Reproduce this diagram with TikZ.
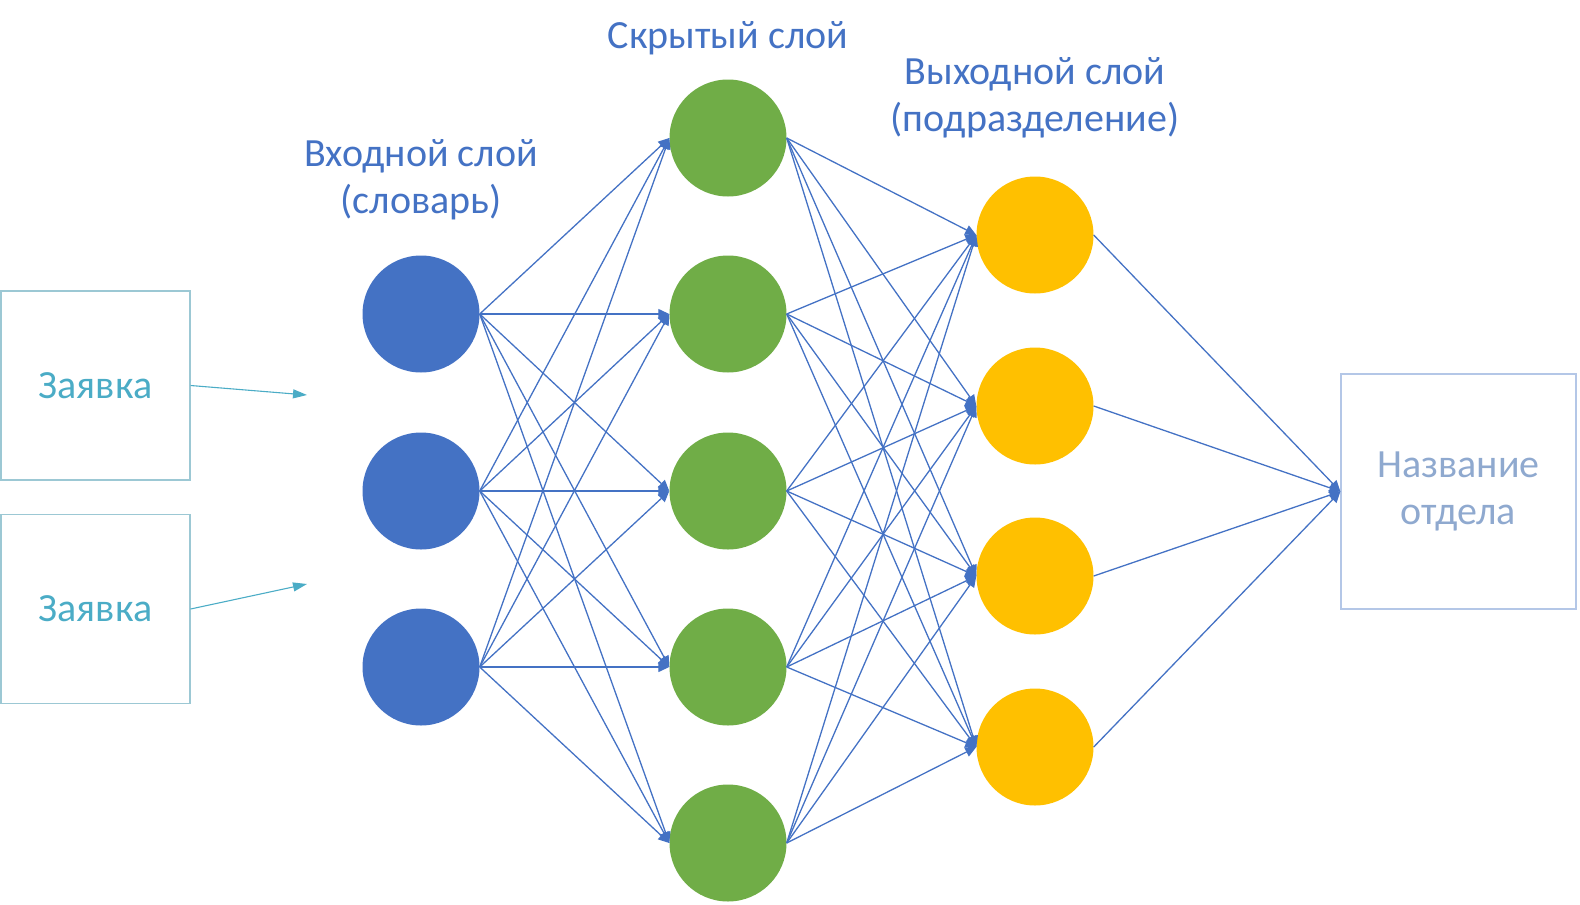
\documentclass[tikz,border=0pt]{standalone}
\usepackage{fontspec}
\setmainfont{Carlito}
\usetikzlibrary{arrows.meta}
\definecolor{inblue}{HTML}{4472C4}
\definecolor{hidgreen}{HTML}{70AD47}
\definecolor{outgold}{HTML}{FFC000}
\definecolor{reqteal}{HTML}{4BACC6}
\definecolor{reqframe}{HTML}{9CC8D4}
\definecolor{deptframe}{HTML}{B4C7E7}
\definecolor{depttext}{HTML}{8FA9CF}

\begin{document}
\begin{tikzpicture}[x=1pt, y=1pt,
    neuron/.style={circle, minimum size=117pt, inner sep=0pt},
    reqbox/.style={draw=reqframe, line width=1.2pt, minimum width=189pt, minimum height=189pt, text=reqteal, font=\fontsize{40}{47}\selectfont},
    layertitle/.style={text=inblue, align=center, font=\fontsize{40}{47}\selectfont},
    link/.style={every edge/.style={draw, inblue, line width=1.3pt, -{Triangle[length=11pt, width=10pt]}}},
    feed/.style={reqteal, line width=1.1pt, -{Triangle[length=14pt, width=9pt]}}]
            \useasboundingbox (0,0) rectangle (1580,-905);

            % requests
            \node[reqbox] (req1) at (95.5,-385.5) {Заявка};
            \node[reqbox] (req2) at (95.5,-609) {Заявка};
            \coordinate (in1) at (307,-395);
            \coordinate (in2) at (307,-584);

            % layers
            \node[neuron, fill=inblue] (i1) at (421,-314) {};
            \node[neuron, fill=inblue] (i2) at (421,-491) {};
            \node[neuron, fill=inblue] (i3) at (421,-667) {};
            \node[neuron, fill=hidgreen] (h1) at (728,-138) {};
            \node[neuron, fill=hidgreen] (h2) at (728,-314) {};
            \node[neuron, fill=hidgreen] (h3) at (728,-491) {};
            \node[neuron, fill=hidgreen] (h4) at (728,-667) {};
            \node[neuron, fill=hidgreen] (h5) at (728,-843) {};
            \node[neuron, fill=outgold] (o1) at (1035,-235) {};
            \node[neuron, fill=outgold] (o2) at (1035,-406) {};
            \node[neuron, fill=outgold] (o3) at (1035,-576) {};
            \node[neuron, fill=outgold] (o4) at (1035,-747) {};
            \node[draw=deptframe, line width=1.2pt, minimum width=235pt, minimum height=235pt, text=depttext, align=center, font=\fontsize{40}{47}\selectfont] (dept) at (1458.5,-491.5) {Название\\отдела};

            % titles
            \node[layertitle] (tin) at (421,-180) {Входной слой\\(словарь)};
            \node[layertitle] (thid) at (728,-38) {Скрытый слой};
            \node[layertitle] (tout) at (1035,-98) {Выходной слой\\(подразделение)};

            \draw[feed] (req1.east) -- (in1);
            \draw[feed] (req2.east) -- (in2);

            \path[link] (i1.east) edge (h1.west) edge (h2.west) edge (h3.west) edge (h4.west) edge (h5.west);
            \path[link] (i2.east) edge (h1.west) edge (h2.west) edge (h3.west) edge (h4.west) edge (h5.west);
            \path[link] (i3.east) edge (h1.west) edge (h2.west) edge (h3.west) edge (h4.west) edge (h5.west);
            \path[link] (h1.east) edge (o1.west) edge (o2.west) edge (o3.west) edge (o4.west);
            \path[link] (h2.east) edge (o1.west) edge (o2.west) edge (o3.west) edge (o4.west);
            \path[link] (h3.east) edge (o1.west) edge (o2.west) edge (o3.west) edge (o4.west);
            \path[link] (h4.east) edge (o1.west) edge (o2.west) edge (o3.west) edge (o4.west);
            \path[link] (h5.east) edge (o1.west) edge (o2.west) edge (o3.west) edge (o4.west);
            \path[link] (o1.east) edge (dept.west);
            \path[link] (o2.east) edge (dept.west);
            \path[link] (o3.east) edge (dept.west);
            \path[link] (o4.east) edge (dept.west);
        \end{tikzpicture}
\end{document}
